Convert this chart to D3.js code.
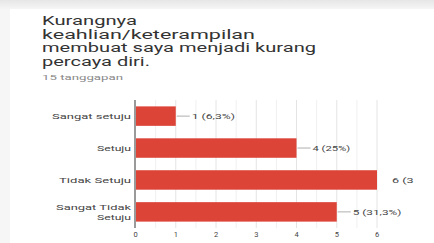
<!DOCTYPE html>
<html>
<head>
<meta charset="utf-8">
<script src="https://cdn.jsdelivr.net/npm/d3@7"></script>
<style>
  body { margin: 0; background: #fff; }
  svg { display: block; font-family: Roboto, Arial, sans-serif; }
</style>
</head>
<body>
<svg id="chart" width="434" height="243"></svg>
<script>

var title_lines = ["Kurangnya", "keahlian/keterampilan", "membuat saya menjadi kurang", "percaya diri."]
var title_widths = [95, 213, 274, 108]
var responses = "15 tanggapan"

var categories = ["Sangat setuju", "Setuju", "Tidak Setuju", "Sangat Tidak Setuju"]
var counts = [1, 4, 6, 5]
var value_labels = ["1 (6,3%)", "4 (25%)", "6 (37,5%)", "5 (31,3%)"]
var ticks = [0, 1, 2, 3, 4, 5, 6]

var svg = d3.select("#chart")

// page background + card
var defs = svg.append("defs")
var grad = defs.append("linearGradient")
    .attr("id", "topfade").attr("x1", 0).attr("y1", 0).attr("x2", 0).attr("y2", 1)
grad.append("stop").attr("offset", "0%").attr("stop-color", "#e6e6e6")
grad.append("stop").attr("offset", "100%").attr("stop-color", "#f7f7f7")

svg.append("rect").attr("width", 434).attr("height", 243).attr("fill", "#f6f6f6")
svg.append("rect").attr("width", 434).attr("height", 10).attr("fill", "url(#topfade)")
svg.append("rect").attr("x", 10).attr("y", 9).attr("width", 424).attr("height", 234).attr("fill", "#fff")

// title
svg.selectAll(".title")
    .data(title_lines)
  .enter().append("text")
    .attr("class", "title")
    .attr("x", 42)
    .attr("y", function(d, i){ return 25 + i * 13.7 })
    .attr("textLength", function(d, i){ return title_widths[i] })
    .attr("lengthAdjust", "spacingAndGlyphs")
    .style("font-size", "12px")
    .style("fill", "#333")
    .text(function(d){ return d })

svg.append("text")
    .attr("x", 42).attr("y", 79.5)
    .attr("textLength", 81)
    .attr("lengthAdjust", "spacingAndGlyphs")
    .style("font-size", "7px")
    .style("fill", "#888")
    .text(responses)

// scales
var x = d3.scaleLinear().domain([0, 6]).range([135.5, 377])
var y = d3.scaleBand().domain(categories).range([100, 228]).paddingInner(0.39).paddingOuter(0.2)

var g = svg.append("g")

// gridlines every half unit
g.selectAll(".grid")
    .data(d3.range(0.5, 6.01, 0.5))
  .enter().append("line")
    .attr("class", "grid")
    .attr("x1", function(d){ return x(d) }).attr("x2", function(d){ return x(d) })
    .attr("y1", 100).attr("y2", 228)
    .style("stroke", function(d){ return d % 1 === 0 ? "#e4e4e4" : "#f0f0f0" })
    .style("stroke-width", 1)

// bars
g.selectAll(".bar")
    .data(counts)
  .enter().append("rect")
    .attr("class", "bar")
    .attr("x", x(0))
    .attr("y", function(d, i){ return y(categories[i]) })
    .attr("width", function(d){ return x(d) - x(0) })
    .attr("height", y.bandwidth())
    .style("fill", "#db4437")

// leader lines + value labels (labels past the plot edge get cut short, as in the original)
var char_w = 5.4
var label_limit = 414
counts.forEach(function(d, i){
  var cy = y(categories[i]) + y.bandwidth() / 2
  var long = d === 6
  if (!long) {
    g.append("line")
      .attr("x1", x(d) + 1).attr("x2", x(d) + 14)
      .attr("y1", cy).attr("y2", cy)
      .style("stroke", "#999").style("stroke-width", 0.8)
  }
  var lx = long ? x(d) + 15 : x(d) + 16
  var txt = value_labels[i]
  var fit = Math.floor((label_limit - lx) / char_w)
  if (txt.length > fit) txt = txt.slice(0, fit)
  g.append("text")
    .attr("x", lx)
    .attr("y", cy + 3)
    .attr("textLength", txt.length * char_w)
    .attr("lengthAdjust", "spacingAndGlyphs")
    .style("font-size", "7.5px")
    .style("fill", "#444")
    .text(txt)
})

// vertical baseline
svg.append("line")
    .attr("x1", 135).attr("x2", 135)
    .attr("y1", 100).attr("y2", 228)
    .style("stroke", "#9a9a9a").style("stroke-width", 2)

// category labels
var cat_widths = { "Sangat setuju": 79, "Setuju": 34, "Tidak Setuju": 72, "Sangat Tidak": 75 }
categories.forEach(function(c, i){
  var cy = y(c) + y.bandwidth() / 2
  var lines = c === "Sangat Tidak Setuju" ? ["Sangat Tidak", "Setuju"] : [c]
  lines.forEach(function(l, j){
    svg.append("text")
      .attr("x", 131)
      .attr("y", cy + 3 + (j - (lines.length - 1) / 2) * 10)
      .attr("text-anchor", "end")
      .attr("textLength", cat_widths[l] || 34)
      .attr("lengthAdjust", "spacingAndGlyphs")
      .style("font-size", "7.5px")
      .style("fill", "#444")
      .text(l)
  })
})

// tick labels
svg.selectAll(".tick_label")
    .data(ticks)
  .enter().append("text")
    .attr("class", "tick_label")
    .attr("x", function(d){ return x(d) })
    .attr("y", 237)
    .attr("text-anchor", "middle")
    .style("font-size", "7.5px")
    .style("fill", "#444")
    .text(function(d){ return d })

</script>
</body>
</html>
